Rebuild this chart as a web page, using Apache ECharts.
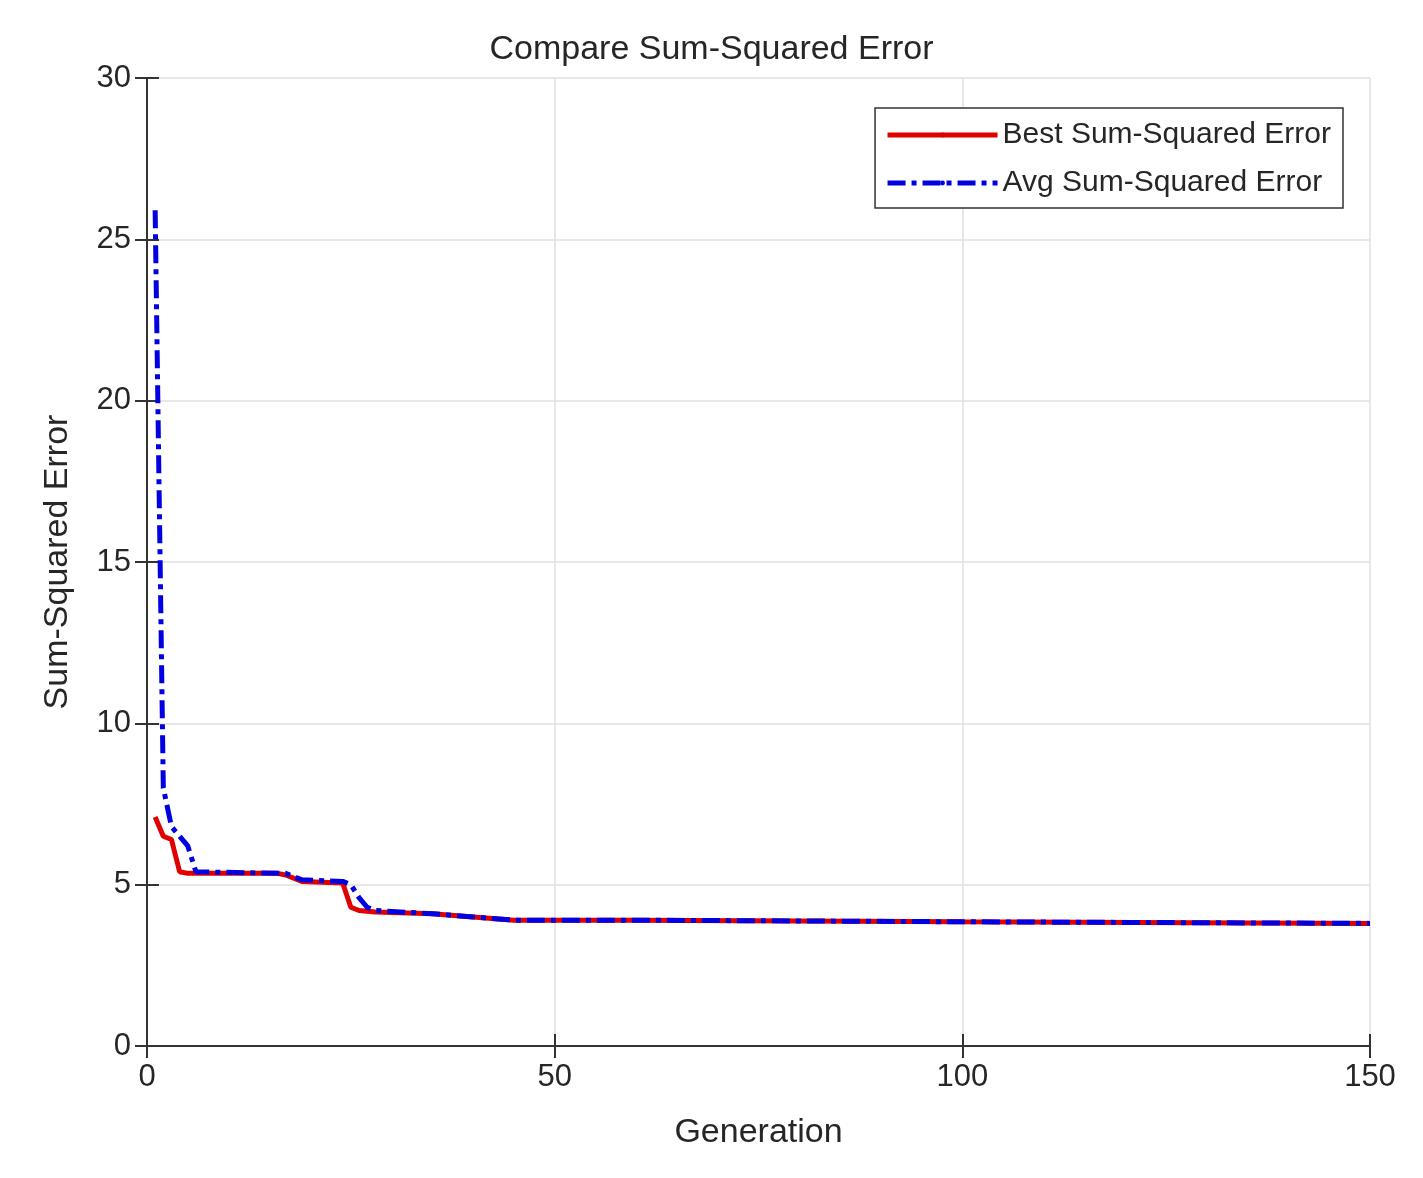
<!DOCTYPE html>
<html><head><meta charset="utf-8">
<script src="https://cdn.jsdelivr.net/npm/echarts@6/dist/echarts.min.js"></script>
<style>body{margin:0;background:#fff}#main{width:1423px;height:1178px}</style>
</head><body><div id="main"></div>
<script>
// [generation, error]
let bestGen=[1,2,3,4,5,16,17,19,24,25,26,28,35,40,45,60,100,150];
let bestVal=[7.1,6.5,6.4,5.4,5.35,5.35,5.3,5.1,5.05,4.3,4.2,4.15,4.1,4.0,3.9,3.9,3.85,3.8];
let avgGen=[1,2,3,4,5,6,16,17,19,24,25,26,27,28,35,40,45,60,100,150];
let avgVal=[25.9,8.0,6.8,6.5,6.2,5.4,5.35,5.35,5.15,5.1,5.0,4.6,4.3,4.2,4.1,4.0,3.9,3.9,3.85,3.8];
let bestData=[];
bestGen.forEach(function(g,i){bestData.push([g,bestVal[i]])});
let avgData=[];
avgGen.forEach(function(g,i){avgData.push([g,avgVal[i]])});

var myChart=echarts.init(document.getElementById('main'));
var txt='#262626';
var ax={color:'#333',width:2};
var option={
    textStyle:{fontFamily:'Liberation Sans'},
    title:{text:'Compare Sum-Squared Error',left:'center',top:28,
        textStyle:{fontSize:34,fontWeight:'normal',color:txt}},
    legend:{top:108,right:80,orient:'vertical',itemWidth:110,itemHeight:6,itemGap:18,
        backgroundColor:'#fff',borderColor:'#333',borderWidth:1.5,padding:[12,12,10,10],
        lineStyle:{width:5},
        textStyle:{fontSize:30,color:txt}},
    grid:{left:147,right:53,top:78,bottom:132},
    xAxis:[{type:'value',min:0,max:150,interval:50,name:'Generation',nameLocation:'middle',nameGap:70,
        nameTextStyle:{fontSize:34,color:txt},
        axisLine:{lineStyle:ax},axisTick:{inside:true,length:12,lineStyle:ax},
        axisLabel:{fontSize:31,color:txt,margin:16},splitLine:{lineStyle:{color:'#e0e0e0',width:1.5}}},
        {type:'value',position:'top',min:0,max:150,interval:50,axisLine:{lineStyle:ax},
        axisTick:{inside:true,length:12,lineStyle:ax},axisLabel:{show:false},splitLine:{show:false}}],
    yAxis:[{type:'value',min:0,max:30,interval:5,name:'Sum-Squared Error',nameLocation:'middle',nameGap:72,
        nameTextStyle:{fontSize:34,color:txt},
        axisLine:{show:true,lineStyle:ax},axisTick:{show:true,inside:true,length:12,lineStyle:ax},
        axisLabel:{fontSize:31,color:txt,margin:16},splitLine:{lineStyle:{color:'#e0e0e0',width:1.5}}},
        {type:'value',position:'right',min:0,max:30,interval:5,axisLine:{show:true,lineStyle:ax},
        axisTick:{show:true,inside:true,length:12,lineStyle:ax},axisLabel:{show:false},splitLine:{show:false}}],
    series:[
        {name:'Best Sum-Squared Error',type:'line',data:bestData,symbol:'none',
            lineStyle:{color:'#e00000',width:5},itemStyle:{color:'#e00000'}},
        {name:'Avg Sum-Squared Error',type:'line',data:avgData,symbol:'none',
            lineStyle:{color:'#0000e0',width:5,type:[18,6,5,6]},itemStyle:{color:'#0000e0'}}
    ]
};
myChart.setOption(option);
</script></body></html>
